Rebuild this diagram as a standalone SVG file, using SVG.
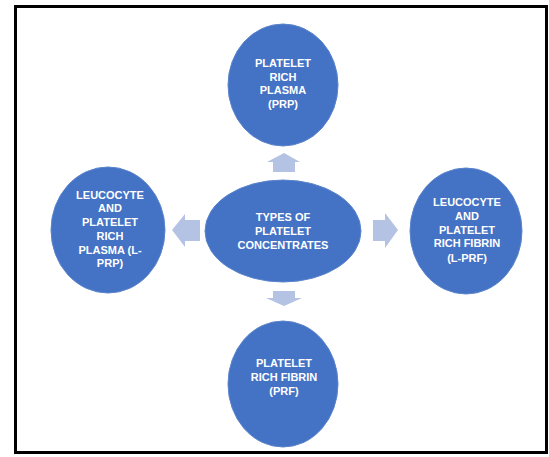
<svg xmlns="http://www.w3.org/2000/svg" width="549" height="457" viewBox="0 0 549 457">
<defs>
<style>
.node{fill:#4472C4;stroke:#5B84CC;stroke-width:1}
.arrow{fill:#B4C3E3}
.t{font-family:"Liberation Sans",Arial,sans-serif;font-weight:bold;font-size:11px;fill:#FFFFFF;text-anchor:middle}
</style>
</defs>
<rect x="0" y="0" width="549" height="457" fill="#FFFFFF"/>
<rect x="15.5" y="6.5" width="531" height="446" fill="#FFFFFF" stroke="#000000" stroke-width="3"/>
<g id="connectors">
<polygon class="arrow" points="284,153 300,162 295,162 295,172 273,172 273,162 267,162"/>
<polygon class="arrow" points="273,291 295,291 295,298 302,298 284,306 266,298 273,298"/>
<polygon class="arrow" points="172,230 185,214 185,220 200,220 200,241 185,241 185,247"/>
<polygon class="arrow" points="373,220 385,220 385,213 398,230 385,248 385,241 373,241"/>
</g>
<g id="node-prp">
<ellipse class="node" cx="283" cy="85" rx="55" ry="61"/>
<text class="t" x="283" y="67">PLATELET</text>
<text class="t" x="283" y="81">RICH</text>
<text class="t" x="283" y="94">PLASMA</text>
<text class="t" x="283" y="108">(PRP)</text>
</g>
<g id="node-lprp">
<ellipse class="node" cx="108" cy="230" rx="57" ry="63"/>
<text class="t" x="110" y="199">LEUCOCYTE</text>
<text class="t" x="110" y="212">AND</text>
<text class="t" x="110" y="226">PLATELET</text>
<text class="t" x="110" y="240">RICH</text>
<text class="t" x="110" y="254">PLASMA (L-</text>
<text class="t" x="110" y="267">PRP)</text>
</g>
<g id="node-center">
<ellipse class="node" cx="283" cy="231" rx="78" ry="51"/>
<text class="t" x="283" y="221">TYPES OF</text>
<text class="t" x="283" y="235">PLATELET</text>
<text class="t" x="283" y="249">CONCENTRATES</text>
</g>
<g id="node-lprf">
<ellipse class="node" cx="466" cy="231" rx="56" ry="63"/>
<text class="t" x="467" y="206">LEUCOCYTE</text>
<text class="t" x="467" y="220">AND</text>
<text class="t" x="467" y="234">PLATELET</text>
<text class="t" x="467" y="247">RICH FIBRIN</text>
<text class="t" x="467" y="262">(L-PRF)</text>
</g>
<g id="node-prf">
<ellipse class="node" cx="283" cy="384" rx="55" ry="63"/>
<text class="t" x="284" y="367">PLATELET</text>
<text class="t" x="284" y="381">RICH FIBRIN</text>
<text class="t" x="284" y="395">(PRF)</text>
</g>
</svg>
